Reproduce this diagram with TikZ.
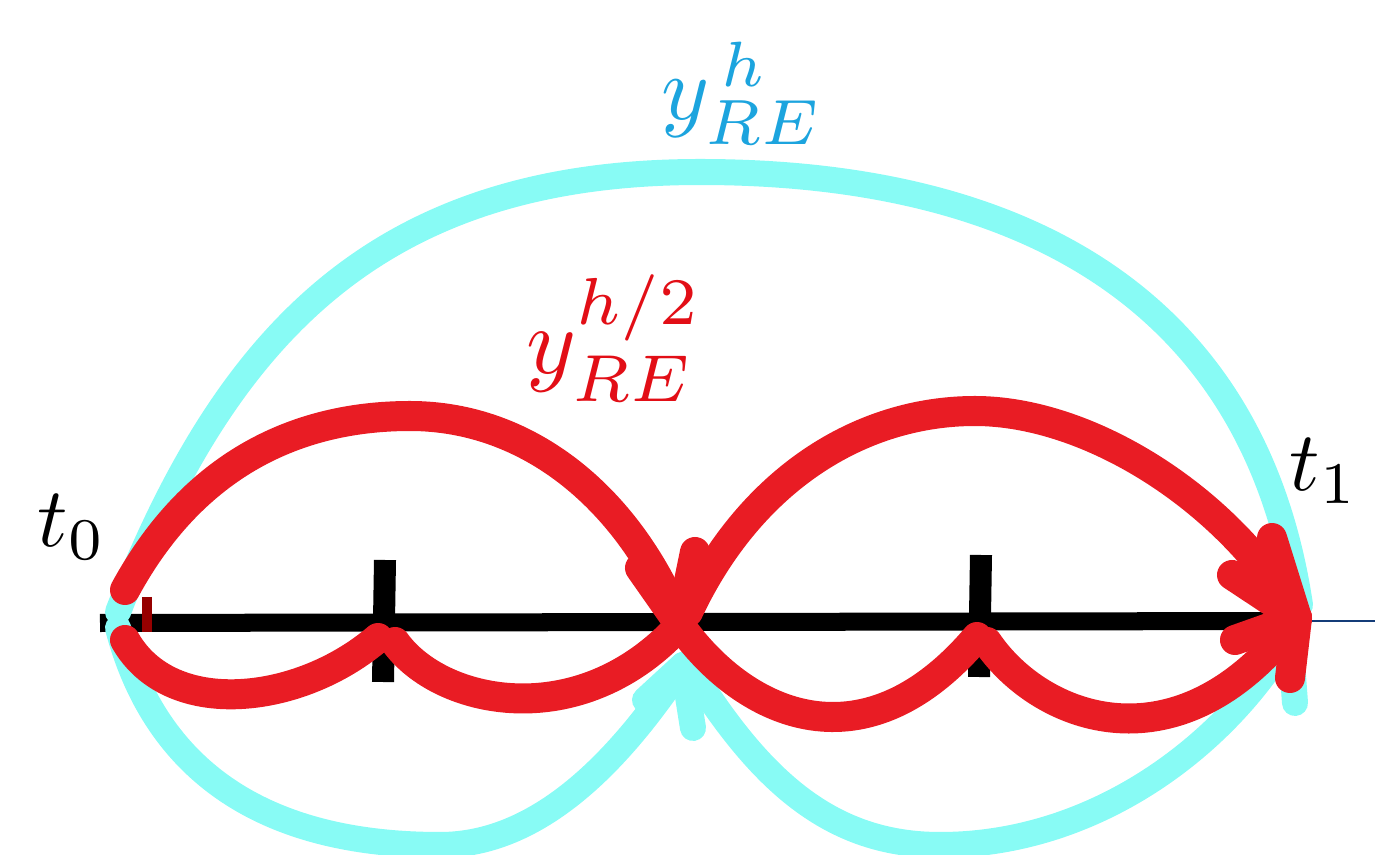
\documentclass[tikz,border=0pt]{standalone}
\usepackage{graphicx}
\definecolor{redc}{RGB}{233,28,36}
\definecolor{cyanc}{RGB}{136,251,245}
\definecolor{bluelab}{RGB}{28,164,222}
\definecolor{redlab}{RGB}{226,14,22}
\definecolor{tickred}{RGB}{150,0,0}
\definecolor{axisblue}{RGB}{20,60,120}
\begin{document}
\begin{tikzpicture}[x=0.01cm,y=-0.01cm,
  redline/.style={draw=redc,line width=0.30cm,line cap=round,line join=round},
  cyanline/.style={draw=cyanc,line width=0.26cm,line cap=round,line join=round},
  axisline/.style={draw=black,line width=0.18cm},
  tickline/.style={draw=black,line width=0.22cm},
  mathlabel/.style={inner sep=0pt}]
\useasboundingbox (0,0) rectangle (1375,855);

% named points
\coordinate (a0) at (100,623);
\coordinate (a1) at (1290,621);
\coordinate (aend) at (1375,621);
\coordinate (mid) at (680,625);
\coordinate (t1tip) at (1297,618);

% axis and ticks
\draw[axisline] (a0) -- (a1);
\draw[draw=axisblue,line width=0.02cm] (a1) -- (aend);
\coordinate (k1a) at (385,560); \coordinate (k1b) at (383,682);
\coordinate (k2a) at (981,555); \coordinate (k2b) at (979,677);
\draw[tickline] (k1a) -- (k1b);
\draw[tickline] (k2a) -- (k2b);
\coordinate (k0a) at (147,597); \coordinate (k0b) at (147,632);
\draw[draw=tickred,line width=0.10cm] (k0a) -- (k0b);

% cyan curves (step h)
\coordinate (ctop) at (700,172);
\draw[cyanline] (118,612) .. controls (227,332) and (380,172) .. (ctop)
  .. controls (1030,172) and (1255,305) .. (1300,605);
\coordinate (cmtip) at (683,665);
\draw[cyanline] (118,628) .. controls (150,750) and (240,845) .. (440,845)
  .. controls (540,845) and (620,760) .. (cmtip);
\coordinate (cttip) at (1290,635);
\draw[cyanline] (690,668) .. controls (760,780) and (830,845) .. (940,845)
  .. controls (1100,845) and (1230,740) .. (cttip);
\draw[cyanline] (645,700) -- (cmtip) -- (693,728);
\draw[cyanline] (1240,695) -- (cttip) -- (1295,703);

% red curves (step h/2)
\draw[redline] (125,590) .. controls (190,470) and (290,416) .. (410,416)
  .. controls (530,416) and (630,500) .. (mid);
\draw[redline] (688,612) .. controls (750,480) and (860,411) .. (975,411)
  .. controls (1090,411) and (1230,500) .. (t1tip);
\draw[redline] (125,640) .. controls (170,720) and (300,705) .. (378,638);
\draw[redline] (395,642) .. controls (440,705) and (580,735) .. (mid);
\draw[redline] (mid) .. controls (740,710) and (860,775) .. (977,637);
\draw[redline] (987,642) .. controls (1040,720) and (1180,775) .. (t1tip);
\draw[redline] (640,568) -- (mid) -- (695,552);
\draw[redline] (1272,538) -- (t1tip) -- (1232,575);
\draw[redline] (1235,640) -- (t1tip) -- (1290,678);

% labels
\node[mathlabel, text=bluelab] (lh) at (742,93) {\scalebox{2.6}{$y^{\,h}_{RE}$}};
\node[mathlabel, text=redlab] (lh2) at (614,338) {\scalebox{2.7}{$y^{h/2}_{RE}$}};
\node[mathlabel] (lt0) at (72,527) {\scalebox{2.4}{$t_0$}};
\node[mathlabel] (lt1) at (1324,471) {\scalebox{2.4}{$t_1$}};
\end{tikzpicture}
\end{document}
